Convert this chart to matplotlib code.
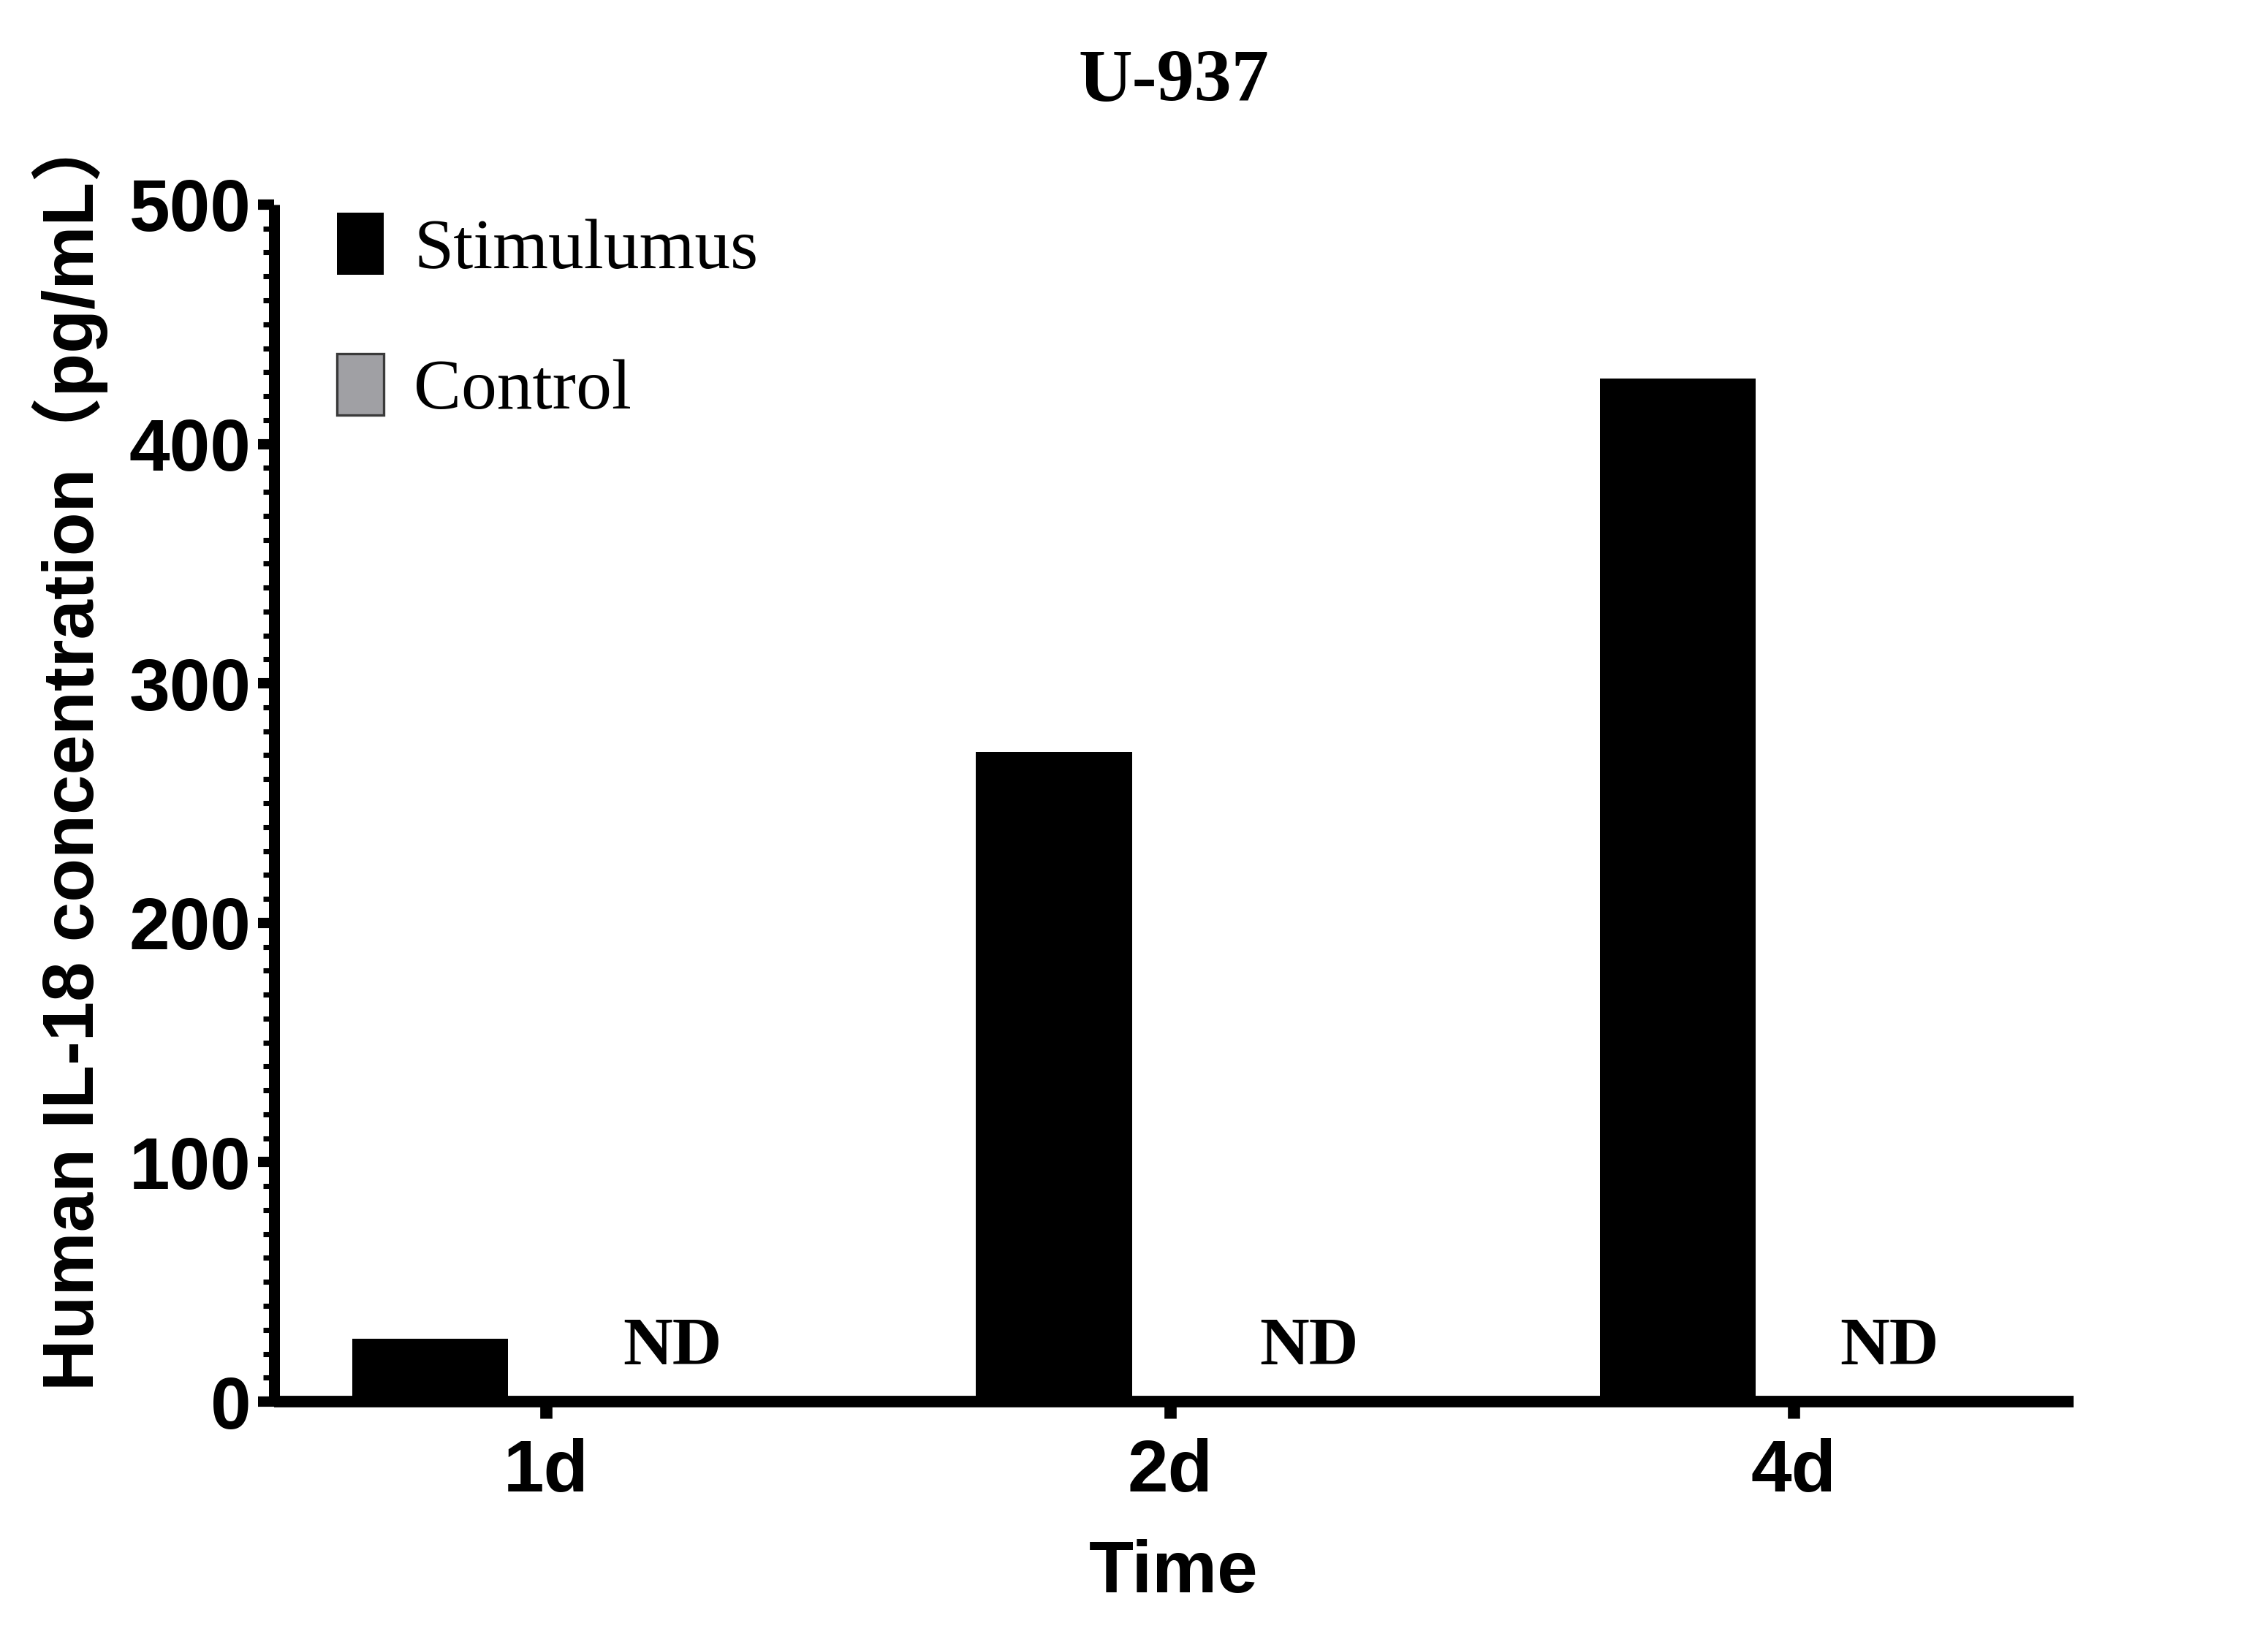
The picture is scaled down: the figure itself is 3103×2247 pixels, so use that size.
import numpy as np
import matplotlib
matplotlib.use("Agg")
import matplotlib.pyplot as plt
from matplotlib.ticker import MultipleLocator

# data
days = ["1d", "2d", "4d"]
stimulus = [26.3, 271.4, 427.4]
control = [0, 0, 0]          # not detected
nd_labels = ["ND", "ND", "ND"]

sans = ["Liberation Sans", "Noto Sans CJK SC", "DejaVu Sans"]
serif = ["Liberation Serif", "DejaVu Serif"]

fig = plt.figure(figsize=(3103 / 300, 2247 / 300), dpi=300)
ax = fig.add_axes([0.1207, 0.1464, 0.7936, 0.7290])

x = np.arange(len(days))
width = 0.25
offset = 0.186

b1 = ax.bar(x - offset, stimulus, width, color="black", linewidth=0, label="Stimulumus", zorder=2)
b2 = ax.bar(x + offset, control, width, color="#a0a0a4", edgecolor="#3a3a3a", linewidth=0.8,
            label="Control", zorder=1)

# ND marks where control is not detected (small hand nudges as in the original)
nd_nudge = [0.017, 0.037, -0.033]
for xi, txt, dx in zip(x, nd_labels, nd_nudge):
    ax.text(xi + offset + dx, 15.5, txt, ha="center", va="baseline",
            family=serif, fontweight="bold", fontsize=22.5)

ax.set_xlim(-0.4365, 2.4487)
ax.set_ylim(0, 500)
ax.set_xticks(x)
ax.set_xticklabels(days)
ax.yaxis.set_major_locator(MultipleLocator(100))
ax.yaxis.set_minor_locator(MultipleLocator(10))

for side in ["top", "right"]:
    ax.spines[side].set_visible(False)
ax.spines["left"].set_linewidth(3.6)
ax.spines["bottom"].set_linewidth(3.8)
ax.spines["left"].set_capstyle("butt")
ax.spines["bottom"].set_capstyle("butt")

ax.tick_params(axis="y", which="major", length=5.4, width=3.4, pad=2)
ax.tick_params(axis="y", which="minor", length=3.7, width=1.7)
ax.tick_params(axis="x", which="major", length=5.5, width=4.0, pad=6.5)

for lab in ax.get_xticklabels() + ax.get_yticklabels():
    lab.set_family(sans)
    lab.set_fontweight("bold")
    lab.set_fontsize(24)

ax.set_ylabel("Human IL-18 concentration（pg/mL）", family=sans, fontweight="bold",
              fontsize=23.5, labelpad=6)
ax.yaxis.set_label_coords(-0.092, 0.544)
ax.set_xlabel("Time", family=sans, fontweight="bold", fontsize=24, labelpad=10.6)
ax.set_title("U-937", family=serif, fontweight="bold", fontsize=24.5, pad=34)

ax.legend(handles=[b1, b2], loc="upper left", bbox_to_anchor=(0.035, 0.993), frameon=False,
          prop={"family": serif, "size": 23.4}, handlelength=0.66, handleheight=0.95,
          handletextpad=0.42, labelspacing=0.98, borderpad=0, borderaxespad=0)

fig.savefig("out.png", dpi=300)
